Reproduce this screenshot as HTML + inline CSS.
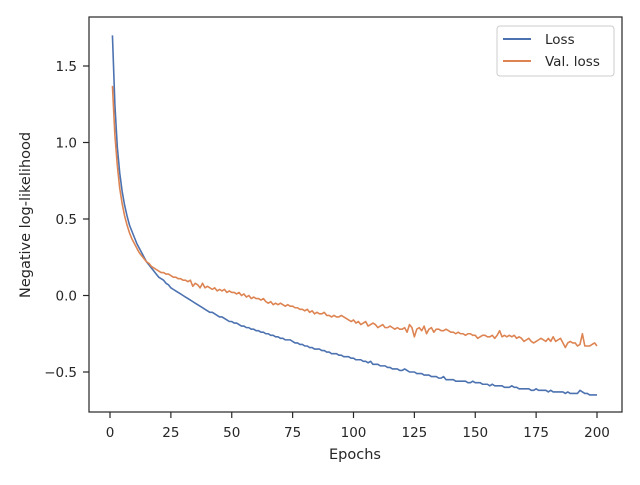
<!DOCTYPE html>
<html><head><meta charset="utf-8"><style>
html,body{margin:0;padding:0;background:#fff;}
svg text{font-family:"DejaVu Sans","Liberation Sans",sans-serif;fill:#262626;}
</style></head><body>
<svg id="chart" width="640" height="480" xmlns="http://www.w3.org/2000/svg">
<rect x="0" y="0" width="640" height="480" fill="#fff"/>
<g id="ticks"></g>
<g id="lines"></g>
<rect x="89" y="17" width="533" height="395" fill="none" stroke="#262626" stroke-width="1.2"/>
<text x="355" y="459" font-size="14.5" text-anchor="middle">Epochs</text>
<text transform="translate(30,215) rotate(-90)" font-size="14.5" text-anchor="middle">Negative log-likelihood</text>
<g>
<rect x="497" y="26" width="117" height="50" rx="3" fill="#fff" stroke="#ccc" stroke-width="1"/>
<line x1="503" y1="39" x2="531" y2="39" stroke="#4c72b0" stroke-width="2"/>
<text x="545" y="44" font-size="13.5">Loss</text>
<line x1="503" y1="61" x2="531" y2="61" stroke="#dd8452" stroke-width="2"/>
<text x="545" y="66" font-size="13.5">Val. loss</text>
</g>
</svg>
<script>
const xTicks=[0,25,50,75,100,125,150,175,200];
const yTicks=[-0.5,0.0,0.5,1.0,1.5];
const yTickLabels=["\u22120.5","0.0","0.5","1.0","1.5"];
const lossValues=[1.70,1.25,0.97,0.80,0.68,0.59,0.52,0.46,0.42,0.38,
0.34,0.31,0.28,0.25,0.22,0.20,0.18,0.16,0.14,0.12,
0.11,0.10,0.08,0.07,0.05,0.04,0.03,0.02,0.01,0.00,
-0.01,-0.02,-0.03,-0.04,-0.05,-0.06,-0.07,-0.08,-0.09,-0.10,
-0.11,-0.11,-0.12,-0.13,-0.14,-0.14,-0.15,-0.16,-0.17,-0.17,
-0.18,-0.18,-0.19,-0.20,-0.20,-0.21,-0.21,-0.22,-0.22,-0.23,
-0.23,-0.24,-0.24,-0.25,-0.25,-0.26,-0.26,-0.27,-0.27,-0.28,
-0.28,-0.29,-0.29,-0.29,-0.30,-0.31,-0.31,-0.32,-0.32,-0.33,
-0.33,-0.34,-0.34,-0.35,-0.35,-0.35,-0.36,-0.36,-0.37,-0.37,
-0.38,-0.38,-0.38,-0.39,-0.39,-0.40,-0.40,-0.40,-0.41,-0.41,
-0.42,-0.42,-0.42,-0.43,-0.43,-0.44,-0.43,-0.45,-0.45,-0.45,
-0.46,-0.46,-0.46,-0.47,-0.47,-0.48,-0.48,-0.48,-0.49,-0.49,
-0.48,-0.49,-0.50,-0.50,-0.50,-0.51,-0.51,-0.51,-0.52,-0.52,
-0.52,-0.53,-0.53,-0.53,-0.54,-0.54,-0.53,-0.55,-0.55,-0.55,
-0.55,-0.56,-0.56,-0.56,-0.56,-0.56,-0.57,-0.57,-0.56,-0.57,
-0.57,-0.57,-0.58,-0.58,-0.58,-0.59,-0.58,-0.59,-0.59,-0.59,
-0.59,-0.60,-0.60,-0.60,-0.59,-0.60,-0.60,-0.61,-0.61,-0.61,
-0.61,-0.61,-0.62,-0.62,-0.61,-0.62,-0.62,-0.62,-0.62,-0.63,
-0.62,-0.63,-0.63,-0.63,-0.63,-0.63,-0.64,-0.63,-0.64,-0.64,
-0.64,-0.64,-0.62,-0.63,-0.64,-0.64,-0.65,-0.65,-0.65,-0.65];
const valLossValues=[1.37,1.05,0.85,0.70,0.60,0.52,0.46,0.41,0.37,0.34,
0.31,0.28,0.26,0.24,0.22,0.21,0.19,0.18,0.17,0.16,
0.15,0.15,0.14,0.14,0.13,0.12,0.12,0.11,0.11,0.10,
0.10,0.09,0.10,0.06,0.08,0.07,0.05,0.08,0.05,0.06,
0.05,0.04,0.05,0.03,0.04,0.03,0.04,0.02,0.03,0.02,
0.02,0.01,0.02,0.00,0.01,-0.01,0.00,-0.02,-0.01,-0.02,
-0.02,-0.03,-0.02,-0.04,-0.05,-0.04,-0.06,-0.05,-0.06,-0.05,
-0.06,-0.07,-0.06,-0.07,-0.07,-0.08,-0.08,-0.09,-0.09,-0.10,
-0.09,-0.11,-0.10,-0.12,-0.11,-0.12,-0.12,-0.11,-0.13,-0.13,
-0.14,-0.13,-0.14,-0.14,-0.13,-0.14,-0.15,-0.16,-0.17,-0.16,
-0.18,-0.17,-0.19,-0.18,-0.17,-0.20,-0.19,-0.18,-0.19,-0.21,
-0.20,-0.19,-0.21,-0.21,-0.20,-0.21,-0.22,-0.21,-0.22,-0.22,
-0.21,-0.24,-0.19,-0.21,-0.27,-0.22,-0.21,-0.23,-0.20,-0.25,
-0.22,-0.21,-0.24,-0.22,-0.22,-0.23,-0.23,-0.22,-0.23,-0.24,
-0.24,-0.25,-0.24,-0.25,-0.25,-0.26,-0.25,-0.25,-0.26,-0.26,
-0.28,-0.27,-0.26,-0.26,-0.27,-0.27,-0.26,-0.28,-0.26,-0.23,
-0.27,-0.26,-0.27,-0.26,-0.27,-0.26,-0.28,-0.27,-0.28,-0.30,
-0.29,-0.28,-0.30,-0.31,-0.30,-0.29,-0.28,-0.29,-0.30,-0.28,
-0.30,-0.27,-0.30,-0.29,-0.28,-0.31,-0.34,-0.31,-0.30,-0.31,
-0.31,-0.33,-0.32,-0.25,-0.33,-0.33,-0.33,-0.32,-0.31,-0.33];

const NS="http://www.w3.org/2000/svg";
function xScale(v){return 110+(v/200)*487;}
function yScale(v){return 295.5-v*153;}
const tickG=document.getElementById('ticks');
xTicks.forEach(t=>{
  const x=xScale(t);
  const l=document.createElementNS(NS,'line');
  
  
  l.setAttribute('x1',x);l.setAttribute('x2',x);l.setAttribute('y1',412);l.setAttribute('y2',418);
  l.setAttribute('stroke','#262626');l.setAttribute('stroke-width','1.2');
  tickG.appendChild(l);
  const tx=document.createElementNS(NS,'text');
  
  
  tx.setAttribute('x',x);tx.setAttribute('y',437);tx.setAttribute('font-size','13.5');tx.setAttribute('text-anchor','middle');
  tx.textContent=t;
  tickG.appendChild(tx);
});
yTicks.forEach((t,i)=>{
  const y=yScale(t);
  const l=document.createElementNS(NS,'line');
  
  
  l.setAttribute('x1',83);l.setAttribute('x2',89);l.setAttribute('y1',y);l.setAttribute('y2',y);
  l.setAttribute('stroke','#262626');l.setAttribute('stroke-width','1.2');
  tickG.appendChild(l);
  const tx=document.createElementNS(NS,'text');
  
  
  tx.setAttribute('x',77);tx.setAttribute('y',y+5);tx.setAttribute('font-size','13.5');tx.setAttribute('text-anchor','end');
  tx.textContent=yTickLabels[i];
  tickG.appendChild(tx);
});
function drawLine(vals,color,name){
  const pts=vals.map((v,i)=>xScale(i+1).toFixed(2)+','+yScale(v).toFixed(2)).join(' ');
  const p=document.createElementNS(NS,'polyline');
  
  
  p.setAttribute('points',pts);p.setAttribute('fill','none');p.setAttribute('stroke',color);
  p.setAttribute('stroke-width','1.6');p.setAttribute('stroke-linejoin','round');
  document.getElementById('lines').appendChild(p);
}
drawLine(lossValues,'#4c72b0','loss-line');
drawLine(valLossValues,'#dd8452','val-loss-line');
</script>
</body></html>
